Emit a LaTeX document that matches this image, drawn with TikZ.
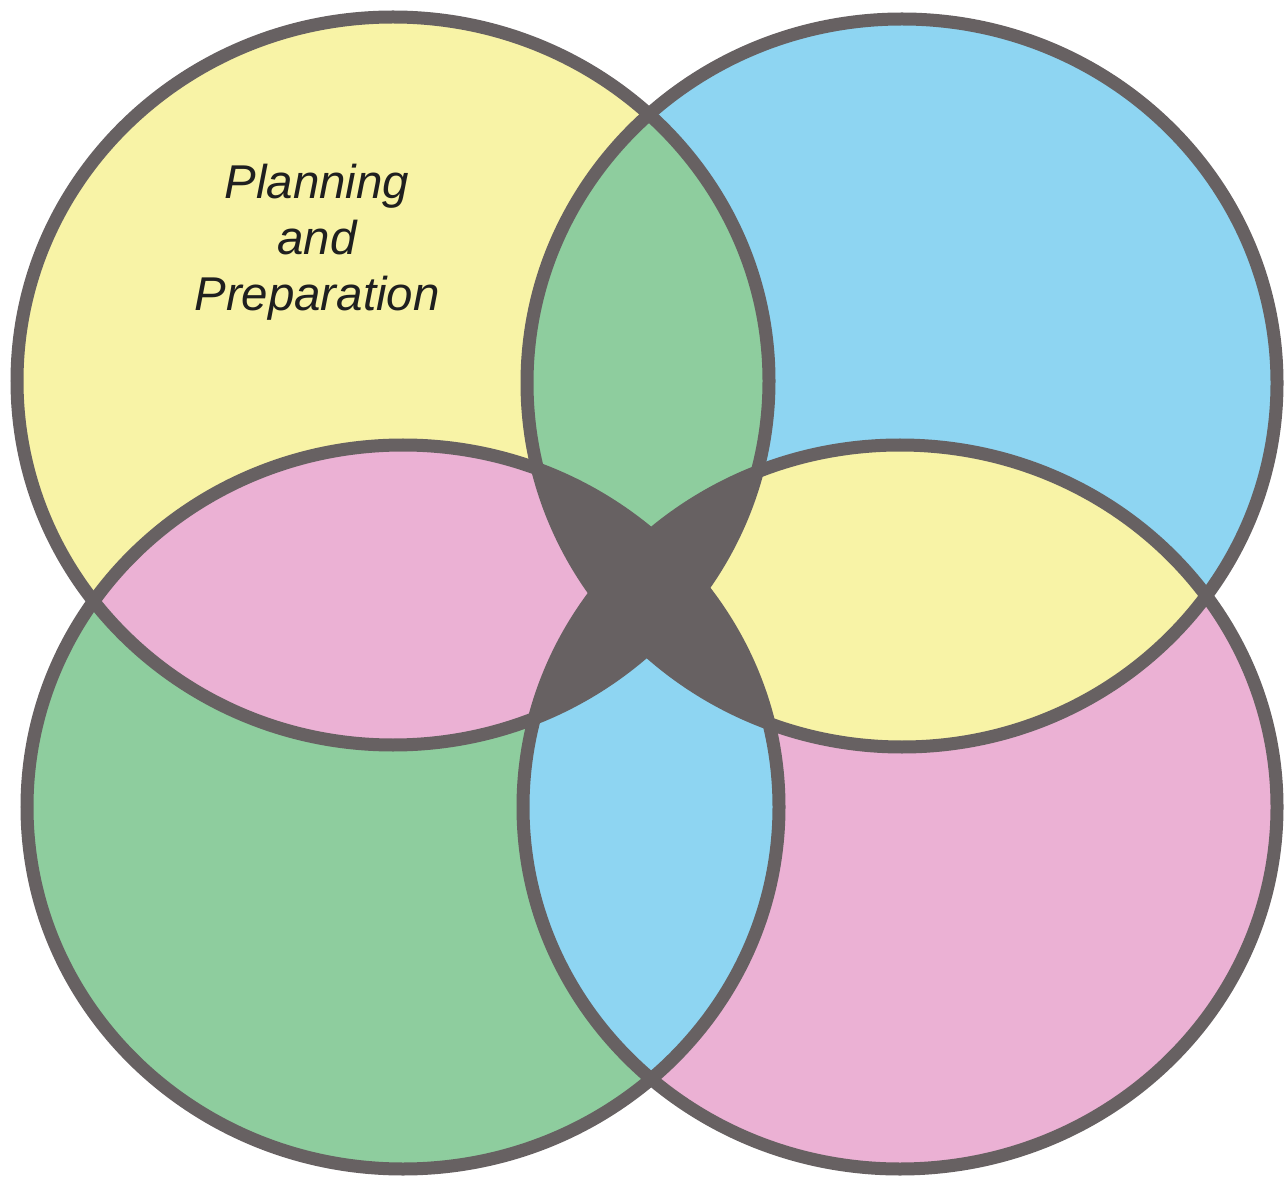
\documentclass[tikz,border=0pt]{standalone}
\usepackage{fontspec}
\newfontfamily\labelfont{Liberation Sans}
\usepackage{tikz}
\usepackage{xcolor}

\definecolor{vyellow}{HTML}{F8F3A6}
\definecolor{vblue}{HTML}{8ED5F2}
\definecolor{vgreen}{HTML}{8ECD9E}
\definecolor{vpink}{HTML}{EBB1D4}
\definecolor{vdark}{HTML}{676162}

% the four rings
\def\ringTL{(393,797) ellipse [x radius=376, y radius=364]}
\def\ringTR{(902,795) ellipse [x radius=375, y radius=364]}
\def\ringBL{(403,371) ellipse [x radius=376, y radius=362]}
\def\ringBR{(900,371) ellipse [x radius=377, y radius=362]}

\begin{document}
\begin{tikzpicture}[x=0.02cm, y=0.02cm,
    ring/.style={draw=vdark, line width=7.4pt}]
    \useasboundingbox (0,0) rectangle (1288,1178);

    % 圆面
    \fill[vyellow] \ringTL;
    \fill[vblue] \ringTR;
    \fill[vgreen] \ringBL;
    \fill[vpink] \ringBR;

    % 两两相交
    \begin{scope}
        \clip \ringTL;
        \fill[vgreen] \ringTR;
        \fill[vpink] \ringBL;
    \end{scope}
    \begin{scope}
        \clip \ringBR;
        \fill[vyellow] \ringTR;
        \fill[vblue] \ringBL;
    \end{scope}

    % 中心（对角相交）
    \begin{scope}
        \clip \ringTL;
        \fill[vdark] \ringBR;
    \end{scope}
    \begin{scope}
        \clip \ringTR;
        \fill[vdark] \ringBL;
    \end{scope}

    % 圆边
    \draw[ring] \ringTL;
    \draw[ring] \ringTR;
    \draw[ring] \ringBL;
    \draw[ring] \ringBR;

    % 文字
    \node[align=center, inner sep=0pt, text=black!88,
          font=\labelfont\itshape\fontsize{27}{32}\selectfont]
        (planning) at (317,936) {Planning\\and\\Preparation};
\end{tikzpicture}
\end{document}
